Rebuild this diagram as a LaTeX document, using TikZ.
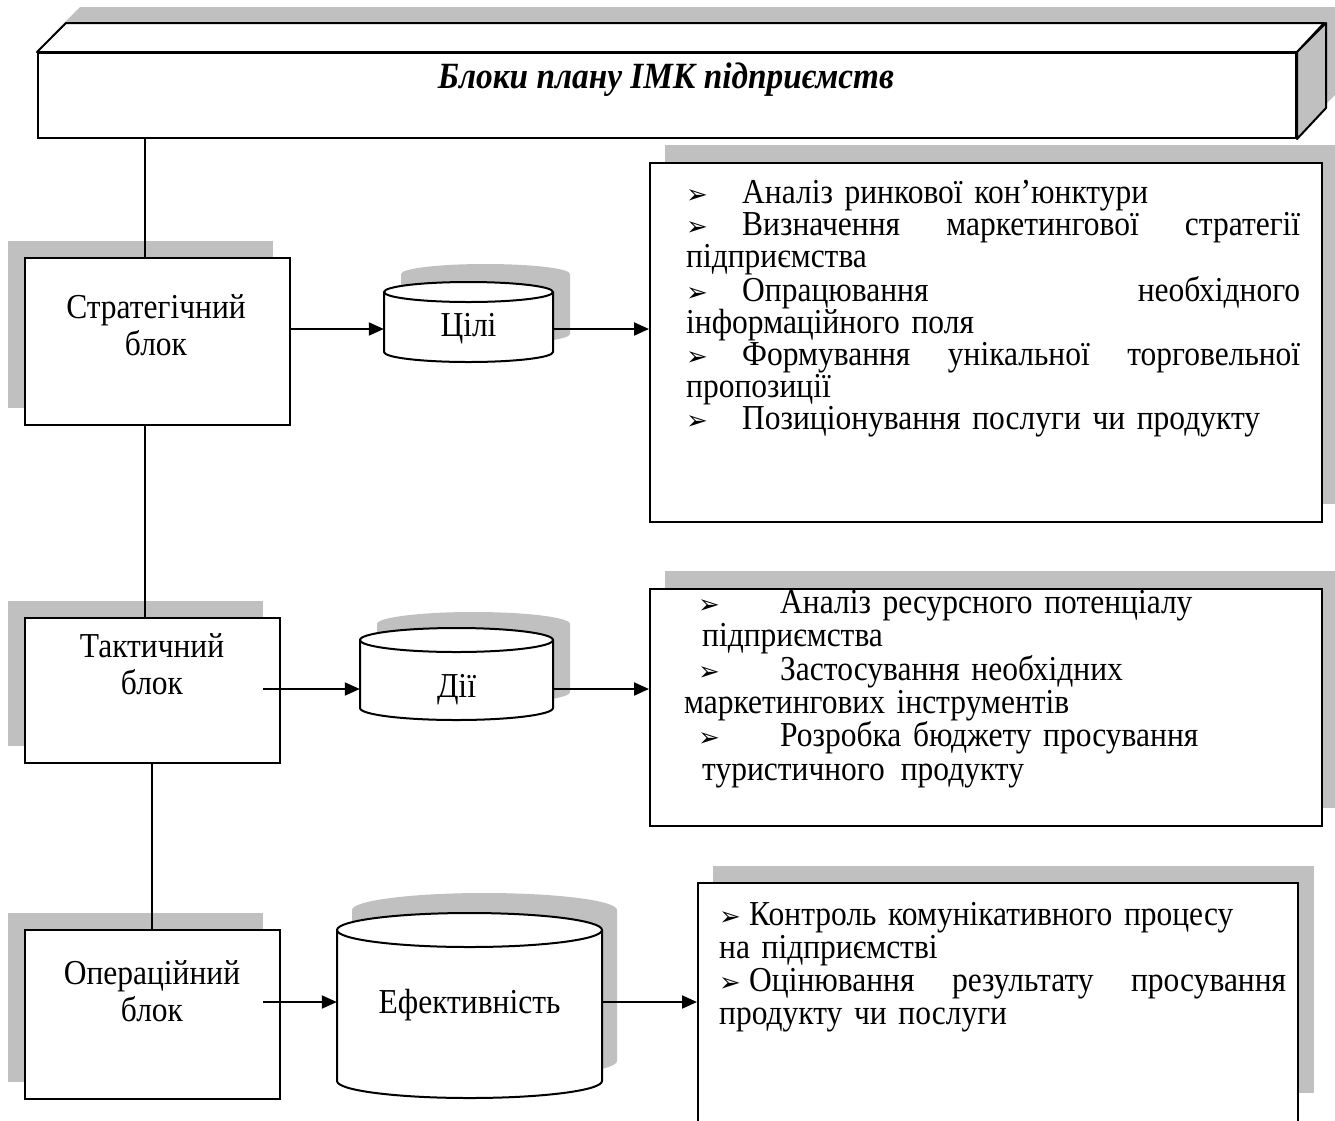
\documentclass[tikz,border=0pt]{standalone}
\usepackage{fontspec}
\setmainfont{Liberation Serif}[FakeStretch=0.9]
\newfontfamily\dingfont{DejaVu Sans}
\usetikzlibrary{arrows.meta,calc}
\definecolor{shadowgrey}{RGB}{192,192,192}

% arrowhead bullet used in the lists
\newcommand{\bul}{{\dingfont\fontsize{26}{26}\selectfont ➢}}

% drum (cylinder) with a grey drop shadow:
% #1 left x, #2 right x, #3 top ellipse centre y, #4 bottom ellipse centre y,
% #5 vertical radius, #6/#7 shadow shift
\newcommand{\drum}[7]{%
  \fill[shadowgrey] (#1+#6,#3+#7) -- (#1+#6,#4+#7)
    arc[start angle=180,end angle=360,x radius={(#2-#1)/2},y radius=#5]
    -- (#2+#6,#3+#7)
    arc[start angle=0,end angle=180,x radius={(#2-#1)/2},y radius=#5] -- cycle;
  \draw[boxline,fill=white] (#1,#3) -- (#1,#4)
    arc[start angle=180,end angle=360,x radius={(#2-#1)/2},y radius=#5]
    -- (#2,#3)
    arc[start angle=0,end angle=180,x radius={(#2-#1)/2},y radius=#5] -- cycle;
  \draw[boxline] (#1,#3)
    arc[start angle=180,end angle=360,x radius={(#2-#1)/2},y radius=#5];
}

\tikzset{
  boxline/.style={line width=2pt},
  blockbox/.style={draw,line width=2pt,fill=white,inner sep=0pt,anchor=north west},
  blocktext/.style={inner sep=0pt,align=center,font=\fontsize{35}{37}\selectfont},
  drumtext/.style={inner sep=0pt,font=\fontsize{35}{37}\selectfont},
  listtext/.style={inner sep=0pt,anchor=north west,align=left},
  link/.style={line width=2pt},
  flow/.style={line width=2pt,-{Triangle[length=15pt,width=13pt]}},
}

\begin{document}
\begin{tikzpicture}[x=1pt,y=1pt]
\useasboundingbox (0,0) rectangle (1335,-1120);

% ---------- drop shadows ----------
% heading prism
\fill[shadowgrey] (51,-121) -- (51,-36) -- (80,-7) -- (1338,-7) -- (1338,-92) -- (1309,-121) -- cycle;
% left blocks
\fill[shadowgrey] (8,-241) rectangle (273,-408);
\fill[shadowgrey] (8,-601) rectangle (263,-746);
\fill[shadowgrey] (8,-913) rectangle (263,-1082);
% list boxes
\fill[shadowgrey] (665,-145) rectangle (1337,-504);
\fill[shadowgrey] (665,-571) rectangle (1337,-808);
\fill[shadowgrey] (713,-866) rectangle (1314,-1093);

% ---------- heading prism ----------
\node[blockbox,minimum width=1258pt,minimum height=85pt] (head) at (37,-52) {};
\draw[boxline,fill=white,line join=round] (head.north west) -- ++(29,29) -- ++(1258,0) -- (head.north east) -- cycle;
\draw[boxline,fill=shadowgrey,line join=round] (head.north east) -- ++(29,29) -- ++(0,-85) -- (head.south east) -- cycle;
\node[anchor=base,inner sep=0pt,font=\fontsize{37}{37}\selectfont\bfseries\itshape] (title) at (666,-88) {Блоки плану ІМК підприємств};

% ---------- left column ----------
\coordinate (spineA) at (145,0);
\coordinate (spineB) at (152,0);

\draw[link] (head.south -| spineA) -- (spineA |- 0,-257);
\draw[link] (spineA |- 0,-424) -- (spineA |- 0,-617);
\draw[link] (spineB |- 0,-762) -- (spineB |- 0,-929);

\node[blockbox,minimum width=265pt,minimum height=167pt] (strat) at (24,-257) {};
\node[blockbox,minimum width=255pt,minimum height=145pt] (tact) at (24,-617) {};
\node[blockbox,minimum width=255pt,minimum height=169pt] (oper) at (24,-929) {};

\node[blocktext] (stratTxt) at (156,-325) {Стратегічний\\блок};
\node[blocktext] (tactTxt) at (152,-664) {Тактичний\\блок};
\node[blocktext] (operTxt) at (152,-991) {Операційний\\блок};

% ---------- drums ----------
\drum{384}{553}{-292}{-352}{10}{17}{18}
\drum{360}{553}{-640}{-708}{12}{17}{16}
\drum{337}{602}{-930}{-1081}{17}{15}{20}

\node[drumtext,minimum width=169pt,minimum height=60pt,text height=21pt,text depth=7pt] (goal) at (468.5,-329) {Цілі};
\node[drumtext,minimum width=193pt,minimum height=60pt,text height=22pt,text depth=6pt] (act) at (456.5,-689) {Дії};
\node[drumtext,minimum width=265pt,minimum height=60pt,text height=28pt,text depth=6pt] (eff) at (469.5,-1002) {Ефективність};

% ---------- list boxes ----------
\node[blockbox,minimum width=672pt,minimum height=359pt] (goalList) at (649,-162) {};
\node[blockbox,minimum width=672pt,minimum height=237pt] (actList) at (649,-588) {};
\node[blockbox,minimum width=600pt,minimum height=260pt] (effList) at (697,-882) {};

\node[listtext,text width=614pt,font=\fontsize{35}{32.2}\selectfont] (goalItems) at (686,-173) {%
\rule{0pt}{30pt}\makebox[56pt][l]{\bul}Аналіз ринкової кон’юнктури\\
\makebox[56pt][l]{\bul}\hbox to 558pt{Визначення\hfill маркетингової\hfill стратегії}\\
підприємства\\
\makebox[56pt][l]{\bul}\hbox to 558pt{Опрацювання\hfill необхідного}\\
інформаційного поля\\
\makebox[56pt][l]{\bul}\hbox to 558pt{Формування\hfill унікальної\hfill торговельної}\\
пропозиції\\
\makebox[56pt][l]{\bul}Позиціонування послуги чи продукту};

\node[listtext,text width=620pt,font=\fontsize{35}{33.4}\selectfont] (actItems) at (684,-583) {%
\rule{0pt}{30pt}\hspace*{14pt}\makebox[82pt][l]{\bul}Аналіз ресурсного потенціалу\\
\hspace*{18pt}підприємства\\
\hspace*{14pt}\makebox[82pt][l]{\bul}Застосування необхідних\\
маркетингових інструментів\\
\hspace*{14pt}\makebox[82pt][l]{\bul}Розробка бюджету просування\\
\hspace*{18pt}туристичного\hspace{16pt}продукту};

\node[listtext,text width=567pt,font=\fontsize{35}{33}\selectfont] (effItems) at (719,-895) {%
\rule{0pt}{30pt}\makebox[30pt][l]{\bul}Контроль комунікативного процесу\\
на підприємстві\\
\makebox[30pt][l]{\bul}\hbox to 537pt{Оцінювання\hfill результату\hfill просування}\\
продукту чи послуги};

% ---------- connectors ----------
\coordinate (tactOut) at (263,-689);
\coordinate (operOut) at (263,-1002);

\draw[flow] (strat.east |- goal.west) -- (goal.west);
\draw[flow] (goal.east) -- (goal.east -| goalList.west);
\draw[flow] (tactOut) -- (act.west);
\draw[flow] (act.east) -- (act.east -| actList.west);
\draw[flow] (operOut) -- (eff.west);
\draw[flow] (eff.east) -- (eff.east -| effList.west);
\end{tikzpicture}
\end{document}
